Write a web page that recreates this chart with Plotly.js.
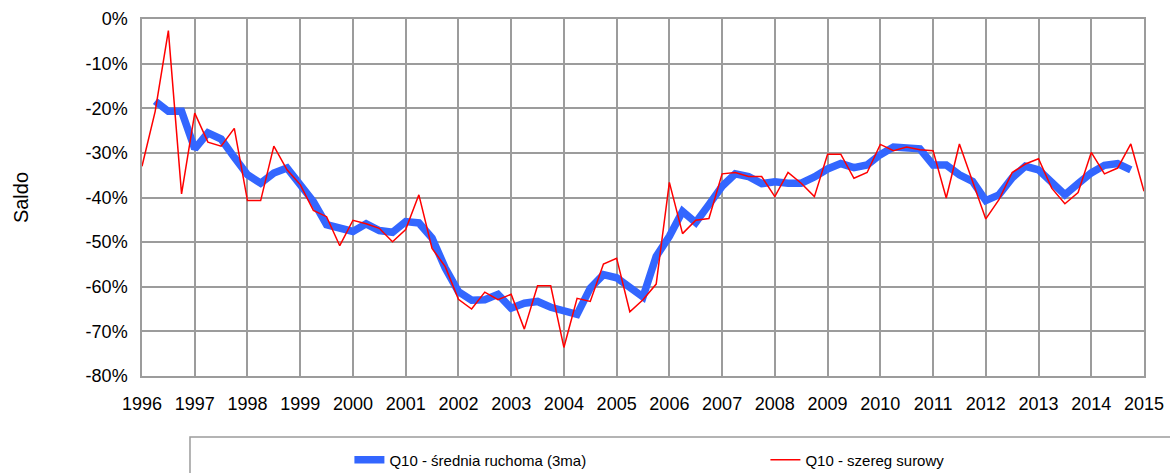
<!DOCTYPE html>
<html>
<head>
<meta charset="utf-8">
<script src="https://cdn.plot.ly/plotly-3.0.1.min.js"></script>
<style>
html,body{margin:0;padding:0;background:#fff;}
#chart{width:1170px;height:473px;}
</style>
</head>
<body>
<div id="chart"></div>
<script>
// Quarterly data, first quarter 1996 .. first quarter 2015
var startYear = 1996;
var seriesNames = ['Q10 - średnia ruchoma (3ma)', 'Q10 - szereg surowy'];

// Raw series (saldo, %), 1996Q1 .. 2015Q1
var rawValues = [
  -33.0, -20.7, -2.6, -39.2,
  -21.1, -27.6, -28.5, -24.5,
  -40.7, -40.7, -28.5, -33.8,
  -37.1, -42.9, -44.3, -50.8,
  -45.1, -45.9, -46.9, -49.9,
  -47.2, -39.4, -51.4, -55.5,
  -62.8, -65.0, -61.2, -62.9,
  -61.7, -69.5, -59.8, -59.8,
  -73.6, -62.6, -63.3, -54.9,
  -53.6, -65.6, -62.9, -59.4,
  -36.6, -48.1, -45.1, -44.7,
  -34.7, -34.4, -35.3, -35.3,
  -39.8, -34.4, -36.8, -39.8,
  -30.3, -30.3, -35.7, -34.4,
  -28.1, -29.5, -28.7, -29.3,
  -29.5, -40.1, -28.0, -36.5,
  -44.8, -40.5, -34.4, -32.5,
  -31.3, -37.9, -41.4, -38.9,
  -29.9, -34.7, -33.4, -28.0,
  -38.6
];

// Moving average (3ma), 1996Q2 .. 2014Q4
var maValues = [
         -18.4, -20.7, -20.7,
  -29.1, -25.5, -26.9, -31.0,
  -34.9, -36.8, -34.5, -33.4,
  -36.9, -40.9, -46.1, -46.9,
  -47.6, -45.9, -47.4, -47.8,
  -45.4, -45.7, -49.1, -55.8,
  -61.1, -63.0, -62.9, -61.7,
  -64.8, -63.7, -63.3, -64.6,
  -65.3, -66.2, -60.3, -57.3,
  -58.0, -60.3, -62.3, -53.2,
  -48.7, -43.1, -45.6, -41.6,
  -37.5, -34.7, -35.3, -36.9,
  -36.5, -36.8, -36.8, -35.4,
  -33.6, -32.4, -33.3, -32.7,
  -30.4, -28.7, -29.0, -29.1,
  -32.7, -32.7, -34.9, -36.4,
  -40.7, -39.4, -35.6, -33.0,
  -33.8, -36.9, -39.4, -36.9,
  -34.5, -32.8, -32.4, -33.8
];
var maStartQuarter = 1; // moving average begins one quarter after the raw series

var yearTicks = [1996,1997,1998,1999,2000,2001,2002,2003,2004,2005,2006,2007,2008,2009,2010,2011,2012,2013,2014,2015];
var yTickVals = [0,-10,-20,-30,-40,-50,-60,-70,-80];
var yTickLabels = ['0%','-10%','-20%','-30%','-40%','-50%','-60%','-70%','-80%'];

function quarterX(offset, n) {
  var xs = [];
  for (var i = 0; i < n; i++) xs.push(startYear + (offset + i) / 4);
  return xs;
}

var FONT = '"Liberation Sans", Arial, sans-serif';
var GRID = '#9c9c9c';

var traces = [
  {
    x: quarterX(maStartQuarter, maValues.length),
    y: maValues,
    name: seriesNames[0],
    type: 'scatter',
    mode: 'lines',
    line: {color: '#3366ff', width: 7.5}
  },
  {
    x: quarterX(0, rawValues.length),
    y: rawValues,
    name: seriesNames[1],
    type: 'scatter',
    mode: 'lines',
    line: {color: '#ff0000', width: 1.5}
  }
];

var layout = {
  width: 1170,
  height: 473,
  margin: {l: 142, r: 26, t: 19, b: 97, autoexpand: false},
  paper_bgcolor: '#ffffff',
  plot_bgcolor: '#ffffff',
  font: {family: FONT, size: 18, color: '#000'},
  showlegend: true,
  xaxis: {
    range: [1996, 2015],
    tickvals: yearTicks,
    ticktext: yearTicks.map(String),
    showgrid: true,
    gridcolor: GRID,
    gridwidth: 1.5,
    showline: true,
    linecolor: GRID,
    linewidth: 1.5,
    mirror: true,
    ticks: '',
    zeroline: false,
    ticklabelstandoff: 11,
    tickfont: {family: FONT, size: 18, color: '#000'}
  },
  yaxis: {
    range: [-80, 0],
    tickvals: yTickVals,
    ticktext: yTickLabels,
    showgrid: true,
    gridcolor: GRID,
    gridwidth: 1.5,
    showline: true,
    linecolor: GRID,
    linewidth: 1.5,
    mirror: true,
    ticks: '',
    zeroline: false,
    ticklabelstandoff: 9,
    tickfont: {family: FONT, size: 18, color: '#000'},
    title: {text: 'Saldo', font: {family: FONT, size: 20, color: '#000'}, standoff: 52}
  },
  legend: {
    orientation: 'h',
    x: 0.207,
    xanchor: 'left',
    y: -0.235,
    yanchor: 'middle',
    bgcolor: 'rgba(0,0,0,0)',
    borderwidth: 0,
    entrywidth: 371,
    entrywidthmode: 'pixels',
    font: {family: FONT, size: 15, color: '#000'}
  },
  shapes: [
    {
      type: 'rect', xref: 'paper', yref: 'paper',
      x0: 0.0479, x1: 1.2, y0: -0.171, y1: -0.6,
      line: {color: GRID, width: 1.5},
      fillcolor: 'rgba(0,0,0,0)',
      layer: 'below'
    }
  ]
};

Plotly.newPlot('chart', traces, layout, {displayModeBar: false, responsive: false});
</script>
</body>
</html>
